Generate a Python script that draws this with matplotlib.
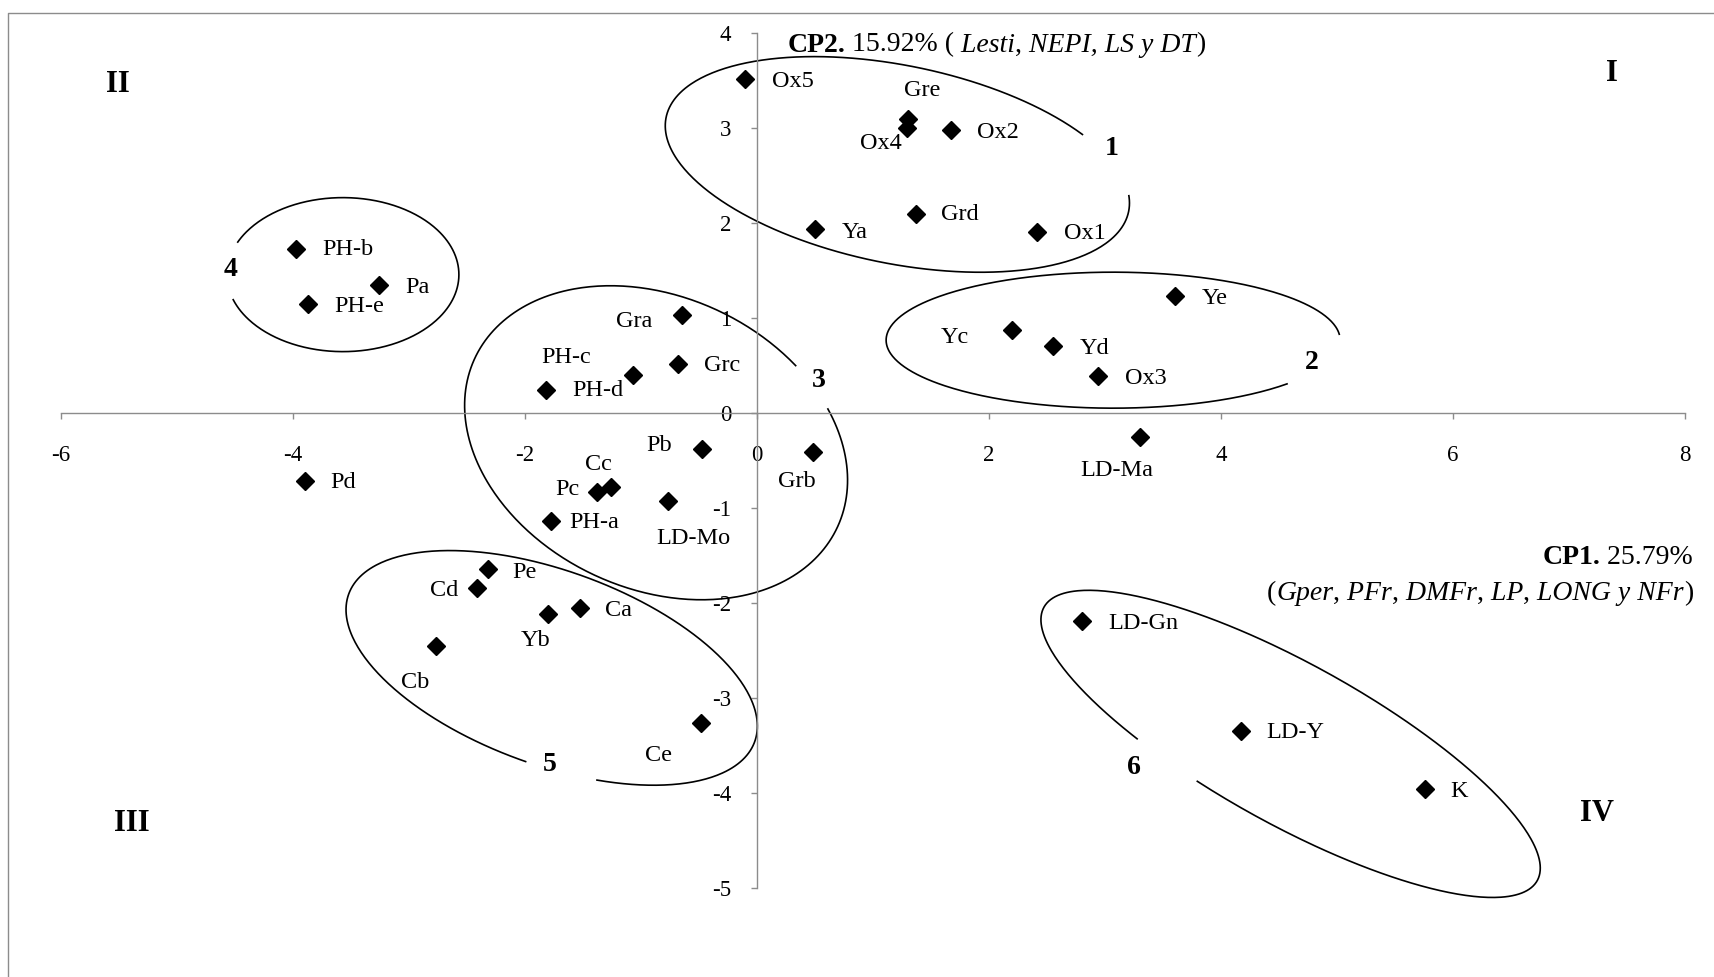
import numpy as np
import matplotlib
matplotlib.use("Agg")
import matplotlib.pyplot as plt
import matplotlib.transforms as mtransforms
from matplotlib.lines import Line2D

plt.rcParams["font.family"] = ["Liberation Serif", "DejaVu Serif"]
plt.rcParams["axes.unicode_minus"] = False

# scores of each accession on the first two components
names = ["Ox5", "Gre", "Ox4", "Ox2", "Grd", "Ya", "Ox1",
         "PH-b", "Pa", "PH-e", "Pd",
         "Gra", "Grc", "PH-c", "PH-d", "Pb", "Grb", "Cc", "Pc", "LD-Mo", "PH-a",
         "Ye", "Yc", "Yd", "Ox3", "LD-Ma",
         "Pe", "Cd", "Ca", "Yb", "Cb", "Ce",
         "LD-Gn", "LD-Y", "K"]
cp1 = [-0.10, 1.30, 1.29, 1.67, 1.37, 0.50, 2.41,
       -3.97, -3.26, -3.87, -3.90,
       -0.65, -0.68, -1.07, -1.82, -0.47, 0.48, -1.26, -1.38, -0.77, -1.78,
       3.60, 2.20, 2.55, 2.94, 3.30,
       -2.32, -2.41, -1.53, -1.80, -2.77, -0.48,
       2.80, 4.17, 5.76]
cp2 = [3.52, 3.10, 3.00, 2.98, 2.10, 1.94, 1.91,
       1.73, 1.35, 1.15, -0.71,
       1.03, 0.52, 0.40, 0.25, -0.38, -0.41, -0.78, -0.83, -0.92, -1.13,
       1.23, 0.88, 0.71, 0.39, -0.25,
       -1.64, -1.84, -2.05, -2.11, -2.45, -3.26,
       -2.19, -3.34, -3.96]

# group outlines: centre (cp1, cp2)
group_ids = ["1", "2", "3", "4", "5", "6"]
group_cx = [1.21, 3.07, -0.87, -3.57, -1.77, 4.60]
group_cy = [2.62, 0.77, -0.31, 1.46, -2.68, -3.48]

# outline shape in pixels: half axes, tilt, open arc (parametric degrees)
outline_a = [236, 227, 200, 116, 216, 282]
outline_b = [99, 68, 146, 77, 97, 80]
outline_tilt = [-11.5, 0, -25, 0, -20, -29]
outline_gap = [(9, 42), (-40, 5), (45, 62), (155, 199), (-88, -68), (-119, -103)]
# where the group number sits (cp1, cp2)
number_xy = [(3.06, 2.79), (4.78, 0.53), (0.53, 0.35), (-4.54, 1.51),
             (-1.79, -3.70), (3.25, -3.73)]

quadrants = ["I", "II", "III", "IV"]
quadrant_xy = [(7.37, 3.58), (-5.51, 3.46), (-5.39, -4.32), (7.24, -4.21)]

# label offsets in pixels (dx, dy) and horizontal alignment
label_pos = {
    "Ox5": (27, -3, "left"), "Gre": (14, 28, "center"), "Ox4": (-5, -15, "right"),
    "Ox2": (26, -2, "left"), "Grd": (25, -1, "left"), "Ya": (27, -3, "left"),
    "Ox1": (27, -2, "left"), "PH-b": (26, -1, "left"), "Pa": (26, -2, "left"),
    "PH-e": (26, -2, "left"), "Pd": (26, -2, "left"), "Gra": (-29, -6, "right"),
    "Grc": (26, -2, "left"), "PH-c": (-67, 18, "center"), "PH-d": (26, -1, "left"),
    "Pb": (-31, 4, "right"), "Grb": (-16, -29, "center"), "Cc": (-12, 23, "center"),
    "Pc": (-17, 3, "right"), "LD-Mo": (26, -38, "center"), "PH-a": (19, -2, "left"),
    "Ye": (27, -2, "left"), "Yc": (-43, -8, "right"), "Yd": (27, -3, "left"),
    "Ox3": (27, -2, "left"), "LD-Ma": (-23, -33, "center"), "Pe": (24, -3, "left"),
    "Cd": (-19, -2, "right"), "Ca": (25, -2, "left"), "Yb": (-13, -27, "center"),
    "Cb": (-21, -36, "center"), "Ce": (-43, -33, "center"), "LD-Gn": (26, -2, "left"),
    "LD-Y": (26, -2, "left"), "K": (25, -2, "left"),
}

axis_color = "#8c8c8c"
tick_fs = 16.5
label_fs = 17.5
title_fs = 20

fig = plt.figure(figsize=(17.14, 9.77), dpi=100)
ax = fig.add_axes([0, 0, 1, 1])

# axes cross at the origin
for side in ("top", "right"):
    ax.spines[side].set_visible(False)
ax.spines["left"].set_position(("data", 0))
ax.spines["bottom"].set_position(("data", 0))
ax.spines["left"].set_bounds(-5, 4)
ax.spines["bottom"].set_bounds(-6, 8)
for side in ("left", "bottom"):
    ax.spines[side].set_color(axis_color)
    ax.spines[side].set_linewidth(1.0)
ax.set_xticks(np.arange(-6, 9, 2))
ax.set_yticks(np.arange(-5, 5, 1))
ax.tick_params(direction="out", length=4.5, width=1.0, color=axis_color,
               labelsize=tick_fs, labelcolor="black")
ax.tick_params(axis="x", pad=18)
ax.tick_params(axis="y", pad=14)

ax.plot(cp1, cp2, "D", color="black", ms=9, zorder=3, clip_on=False)

for n, x, y in zip(names, cp1, cp2):
    dx, dy, ha = label_pos[n]
    ax.annotate(n, (x, y), xytext=(dx, dy), textcoords="offset pixels",
                ha=ha, va="center", fontsize=label_fs)

# open ellipses around the groups
for i in range(len(group_ids)):
    g0, g1 = outline_gap[i]
    t = np.radians(np.linspace(g1, g0 + 360, 400))
    u = outline_a[i] * np.cos(t)
    v = outline_b[i] * np.sin(t)
    phi = np.radians(outline_tilt[i])
    px = u * np.cos(phi) - v * np.sin(phi)
    py = u * np.sin(phi) + v * np.cos(phi)
    tr = fig.dpi_scale_trans + mtransforms.ScaledTranslation(group_cx[i], group_cy[i], ax.transData)
    ax.plot(px / 100, py / 100, transform=tr, color="black", lw=1.2)
    ax.text(number_xy[i][0], number_xy[i][1], group_ids[i], fontsize=20,
            fontweight="bold", ha="center", va="center")

for q, (x, y) in zip(quadrants, quadrant_xy):
    ax.text(x, y, q, fontsize=22, fontweight="bold", ha="center", va="center")


def rich_text(parts, x, y, ha="left"):
    # consecutive pieces of text with their own weight / style
    if ha == "left":
        s, st = parts[0]
        t = ax.text(x, y, s, ha="left", va="center", fontsize=title_fs, **st)
        for s, st in parts[1:]:
            t = ax.annotate(s, xy=(1, 0), xycoords=t, ha="left", va="bottom",
                            fontsize=title_fs, **st)
    else:
        s, st = parts[-1]
        t = ax.text(x, y, s, ha="right", va="center", fontsize=title_fs, **st)
        for s, st in reversed(parts[:-1]):
            t = ax.annotate(s, xy=(0, 0), xycoords=t, ha="right", va="bottom",
                            fontsize=title_fs, **st)


B = {"fontweight": "bold"}
N = {}
I = {"fontstyle": "italic"}

rich_text([("CP2.", B), (" 15.92% (", N), (" Lesti", I), (",", N),
           (" NEPI, LS y DT", I), (")", N)], 0.26, 3.877)
rich_text([("CP1.", B), (" 25.79%", N)], 8.07, -1.523, ha="right")
rich_text([("(", N), ("Gper", I), (",", N), (" PFr", I), (",", N), (" DMFr", I),
           (",", N), (" LP", I), (",", N), (" LONG y NFr", I), (")", N)],
          8.07, -1.90, ha="right")

# chart area frame
fx = 8 / 1714
fy = 1 - 13 / 977
fig.add_artist(Line2D([fx, fx, 1.0], [0.0, fy, fy], transform=fig.transFigure,
                      color=axis_color, lw=1.0))

ax.set_xlim(-6.526, 8.25)
ax.set_ylim(-5.934, 4.351)
ax.set_autoscale_on(False)

fig.savefig("out.png", dpi=100)
